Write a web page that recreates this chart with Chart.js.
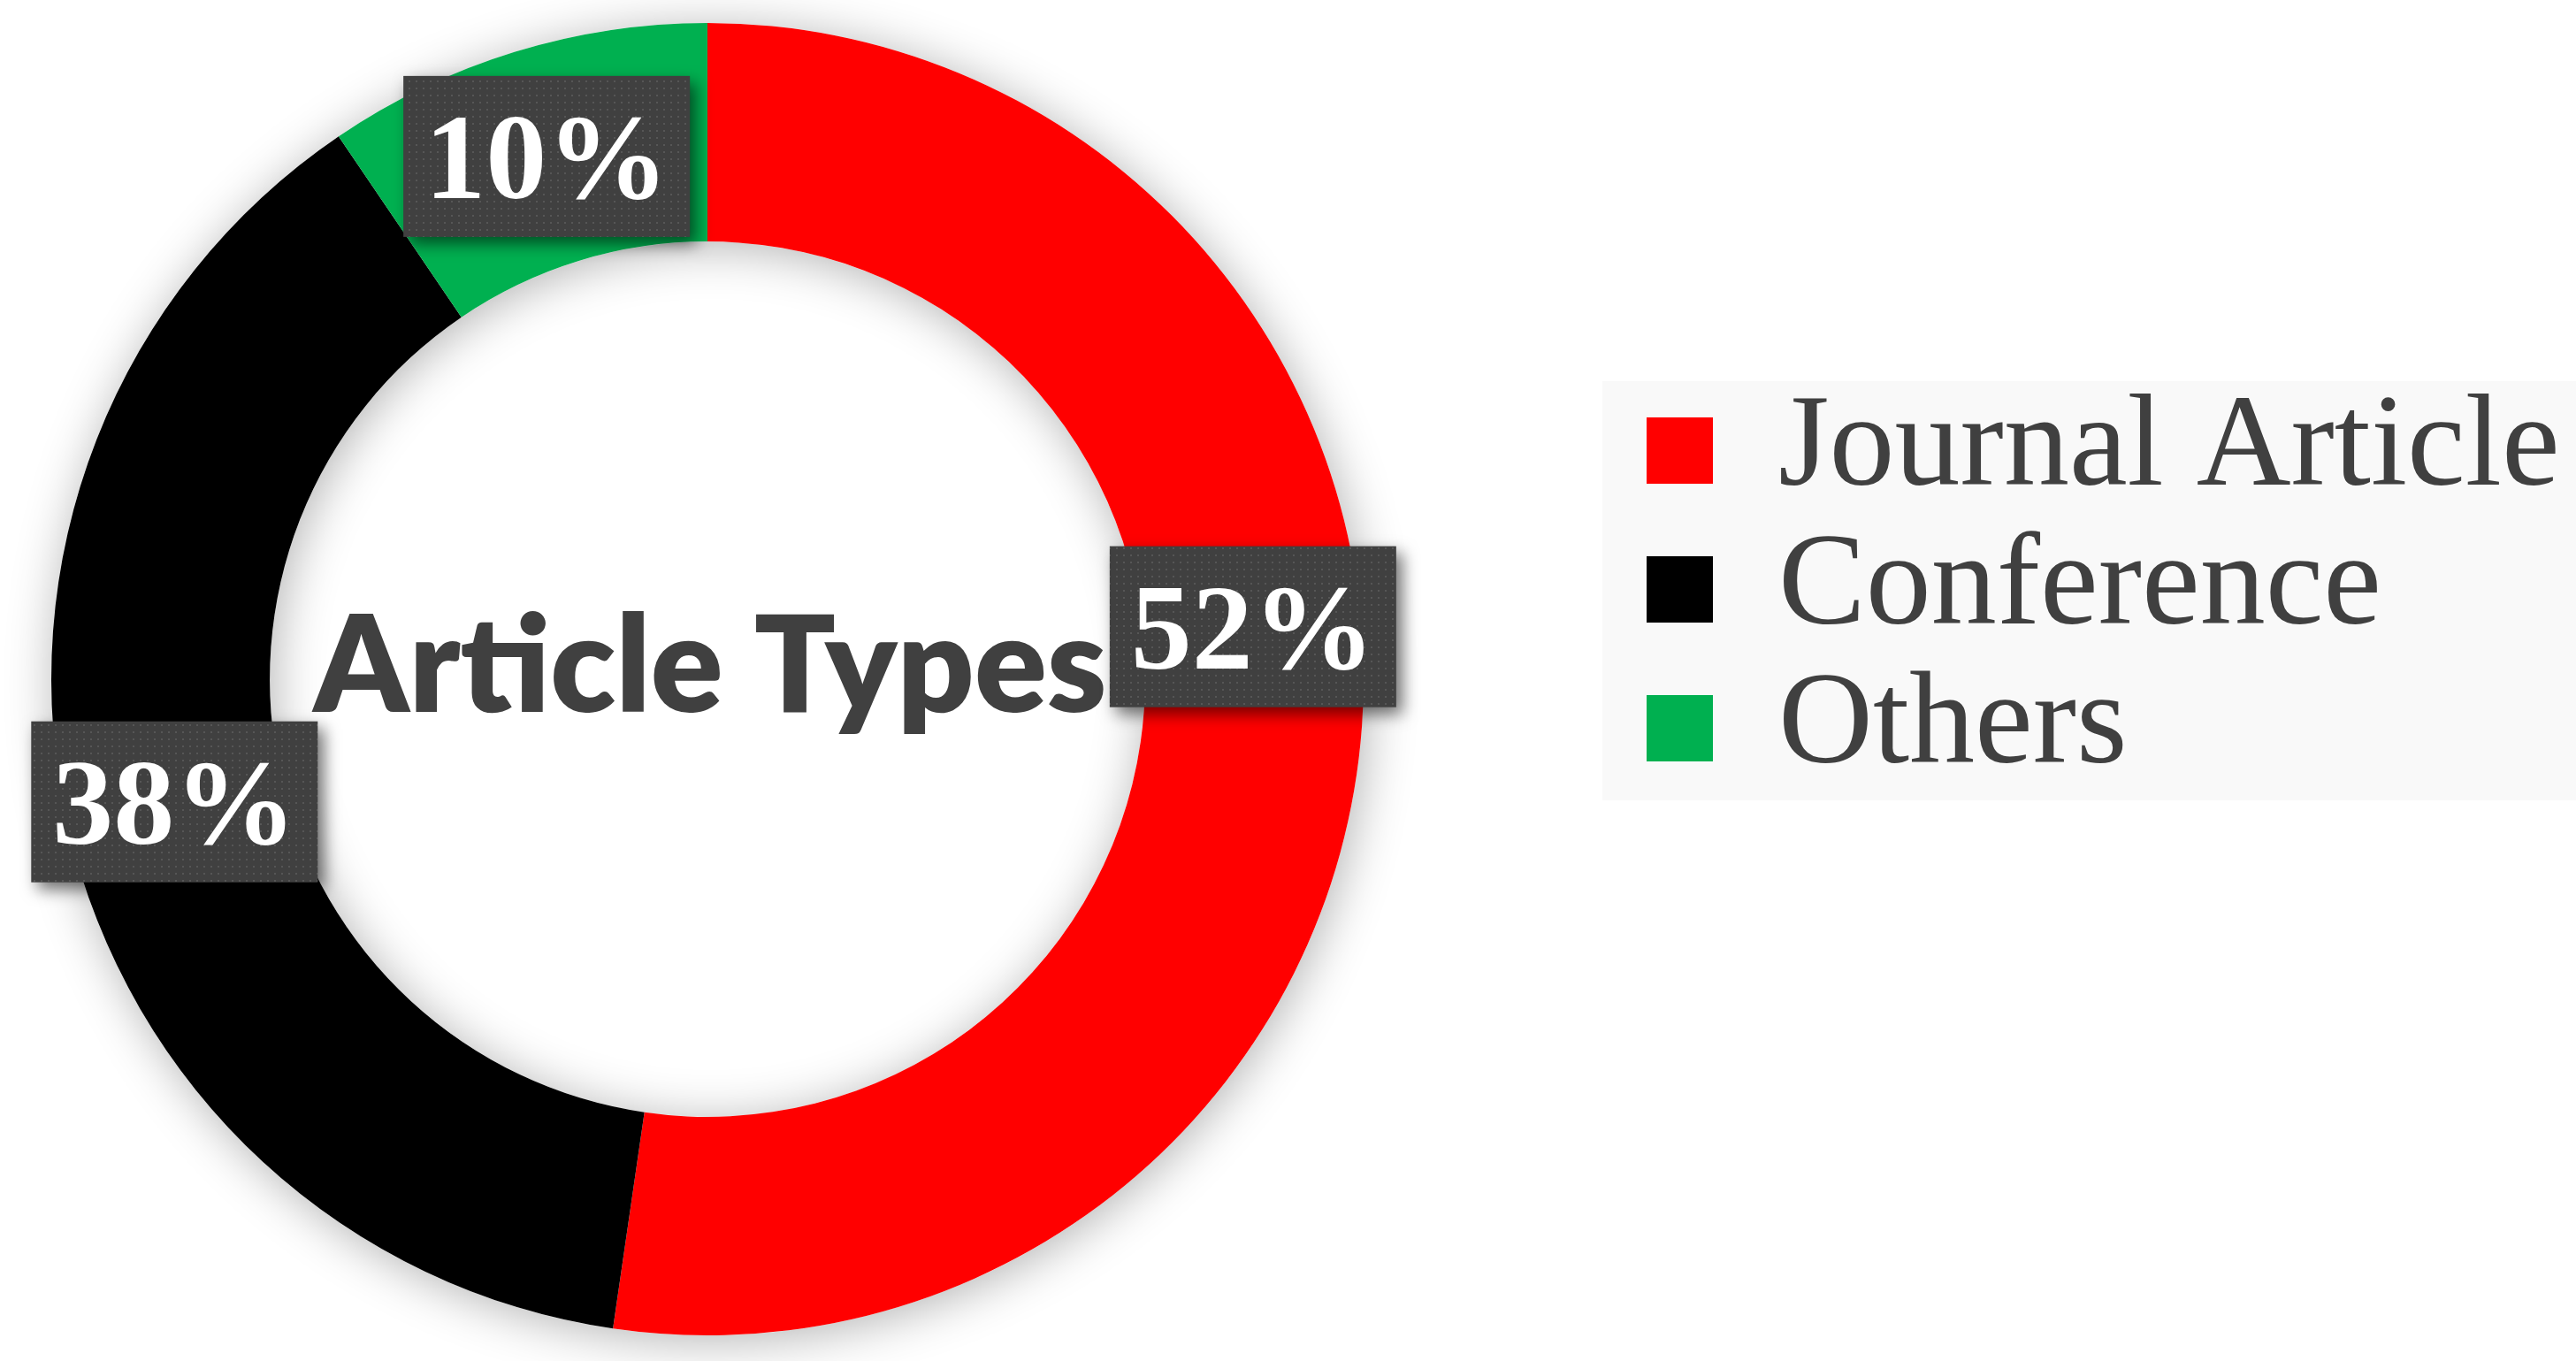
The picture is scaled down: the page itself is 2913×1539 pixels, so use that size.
<!DOCTYPE html>
<html>
<head>
<meta charset="utf-8">
<script src="https://cdn.jsdelivr.net/npm/chart.js@4.4.1/dist/chart.umd.min.js"></script>
<style>
  html, body { margin: 0; padding: 0; overflow: hidden; background: #fff; }
  /* canvas is a bit wider than the window and shifted left so the ring sits where it should */
  #wrap { position: absolute; left: -253px; top: 0; }
</style>
</head>
<body>
<div id="wrap"><canvas id="myChart" width="3166" height="1539"></canvas></div>
<script>
const categories = ['Journal Article', 'Conference', 'Others'];
const shares = [52.3, 38.2, 9.5];
const colors = ['#ff0000', '#000000', '#00b050'];
const centerTitle = 'Article Types';

const total = shares.reduce((a, b) => a + b, 0);
const pctLabels = shares.map(v => Math.round(v / total * 100) + '%');

const serif = '"Liberation Serif", "Times New Roman", Times, serif';
const legendFont = 148;
const legendPad = 9;
const legendBox = 75;

// work out the legend width so the legend starts where the chart area should end
const mctx = document.createElement('canvas').getContext('2d');
mctx.font = legendFont + 'px ' + serif;
const textW = Math.max(...categories.map(t => mctx.measureText(t).width));
const legendW = legendPad + legendBox + legendFont / 2 + textW + 10;
const padRight = Math.max(0, 3166 - 2106 - legendW);

const tile = document.createElement('canvas');
tile.width = tile.height = 8;
const tctx = tile.getContext('2d');
tctx.fillStyle = '#404040';
tctx.fillRect(0, 0, 8, 8);
tctx.fillStyle = '#565656';
tctx.fillRect(3, 3, 2, 2);

const ringShadow = {
  id: 'ringShadow',
  beforeDatasetsDraw(chart) {
    const a = chart.getDatasetMeta(0).data[0];
    const ctx = chart.ctx;
    ctx.save();
    ctx.shadowColor = 'rgba(0,0,0,0.3)';
    ctx.shadowBlur = 55;
    ctx.shadowOffsetX = 4;
    ctx.shadowOffsetY = 6;
    ctx.beginPath();
    ctx.arc(a.x, a.y, a.outerRadius, 0, 2 * Math.PI);
    ctx.arc(a.x, a.y, a.innerRadius, 0, 2 * Math.PI, true);
    ctx.fillStyle = '#fff';
    ctx.fill();
    ctx.restore();
  }
};

const legendBg = {
  id: 'legendBg',
  beforeDraw(chart) {
    const hb = chart.legend.legendHitBoxes;
    if (!hb || !hb.length) return;
    const last = hb[hb.length - 1];
    const x0 = hb[0].left - 50;
    const y0 = hb[0].top - 4.5;
    const y1 = last.top + last.height + 7.5;
    const ctx = chart.ctx;
    ctx.save();
    ctx.fillStyle = '#f9f9f9';
    ctx.fillRect(x0, y0, chart.width - x0, y1 - y0);
    ctx.restore();
  }
};

const ringLabels = {
  id: 'ringLabels',
  afterDatasetsDraw(chart, args, opts) {
    const ctx = chart.ctx;
    const meta = chart.getDatasetMeta(0);
    const a0 = meta.data[0];

    ctx.save();
    ctx.fillStyle = '#404040';
    ctx.font = '800 152px Lato';
    ctx.textAlign = 'center';
    ctx.textBaseline = 'alphabetic';
    ctx.fillText(centerTitle, a0.x + 3, a0.y + 37);
    ctx.restore();

    const pattern = ctx.createPattern(tile, 'repeat');
    meta.data.forEach((arc, i) => {
      const p = arc.tooltipPosition();
      const sh = opts.shift[i] || [0, 0];
      const cx = p.x + sh[0], cy = p.y + sh[1];
      ctx.save();
      ctx.font = 'bold 138px ' + serif;
      const w = ctx.measureText(pctLabels[i]).width + 48;
      const h = 182;
      ctx.shadowColor = 'rgba(0,0,0,0.55)';
      ctx.shadowBlur = 18;
      ctx.shadowOffsetX = 7;
      ctx.shadowOffsetY = 8;
      ctx.fillStyle = pattern;
      ctx.fillRect(cx - w / 2, cy - h / 2, w, h);
      ctx.shadowColor = 'transparent';
      ctx.fillStyle = '#ffffff';
      ctx.textAlign = 'center';
      ctx.textBaseline = 'alphabetic';
      ctx.fillText(pctLabels[i], cx, cy + 47);
      ctx.restore();
    });
  }
};

new Chart(document.getElementById('myChart'), {
  type: 'doughnut',
  data: {
    labels: categories,
    datasets: [{
      data: shares,
      backgroundColor: colors,
      borderWidth: 0
    }]
  },
  options: {
    responsive: false,
    animation: false,
    cutout: '66.7%',
    layout: { padding: { left: 0, top: 26, bottom: 29, right: padRight } },
    plugins: {
      tooltip: { enabled: false },
      legend: {
        position: 'right',
        align: 'start',
        title: { display: true, text: '', font: { size: 10, lineHeight: 1.2 }, padding: { top: 388.5, bottom: 0 } },
        labels: {
          boxWidth: legendBox,
          boxHeight: legendBox,
          padding: legendPad,
          color: '#404040',
          font: { family: serif, size: legendFont }
        }
      },
      ringLabels: { shift: [[0, -104], [0, 0], [0, 0]] }
    }
  },
  plugins: [legendBg, ringShadow, ringLabels]
});
</script>
</body>
</html>
